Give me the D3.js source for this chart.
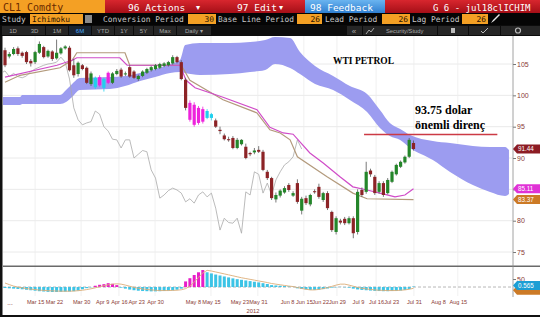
<!DOCTYPE html>
<html><head><meta charset="utf-8">
<script src="https://cdn.jsdelivr.net/npm/d3@7"></script>
<style>html,body{margin:0;padding:0;background:#fff;overflow:hidden}svg{display:block}</style>
</head><body>
<script>
// ---------------- DATA ----------------
const opens  = [107.2,106.2,106.6,107.5,106.8,106.9,105.5,105.3,106.8,107.7,106.2,107.0,105.9,106.7,107.5,107.6,104.8,103.4,104.8,104.4,101.8,101.3,102.9,101.2,103.6,102.0,103.4,104.1,103.4,104.5,103.8,102.6,103.1,103.6,104.0,104.2,104.4,104.7,104.8,105.1,106.1,105.3,102.5,98.8,98.5,98.0,97.8,96.4,96.4,96.0,94.5,93.6,93.0,93.2,91.6,92.2,91.8,90.8,90.9,91.3,91.0,87.8,86.8,83.4,84.0,84.5,85.7,84.0,86.0,81.6,83.6,82.6,84.7,85.4,83.3,84.4,81.4,78.2,80.0,80.3,79.6,80.4,78.2,84.9,84.6,88.0,87.0,84.6,86.0,84.4,86.2,87.4,88.6,89.3,90.2,92.4];
const highs  = [107.6,106.9,107.7,107.8,107.0,107.1,105.8,107.1,108.6,107.9,107.3,107.2,108.9,107.7,108.0,107.9,105.8,105.4,105.0,104.6,103.8,103.0,103.2,102.8,103.8,103.7,104.2,104.4,103.8,104.8,104.0,103.3,104.0,104.4,104.7,105.0,105.2,105.3,105.5,106.4,106.3,105.6,102.8,99.2,98.9,98.3,98.2,97.8,97.2,96.3,95.0,93.9,93.4,93.5,93.2,93.0,92.3,91.0,91.6,91.9,91.3,88.1,87.0,84.5,85.0,85.5,86.0,84.7,86.6,83.8,84.0,84.3,85.0,85.9,84.6,84.7,81.6,80.7,80.3,80.6,80.7,80.7,85.0,85.3,89.4,88.3,87.3,86.3,86.3,86.8,88.0,89.1,89.6,90.4,93.2,92.8];
const lows   = [104.5,105.9,106.4,106.3,106.0,105.0,104.6,105.0,106.6,105.9,106.0,105.5,105.7,106.5,107.3,103.8,102.8,103.0,104.0,101.8,101.5,101.0,101.4,100.6,101.8,101.8,103.2,102.8,103.1,102.8,102.6,102.3,102.9,103.4,103.8,104.0,104.2,104.5,104.6,104.9,105.1,102.4,97.6,95.8,95.0,95.3,95.5,96.2,96.0,94.8,93.8,92.8,92.6,91.4,91.4,92.0,89.8,90.3,90.6,90.8,87.9,86.5,83.3,82.9,83.7,84.3,84.6,83.8,82.7,81.0,82.5,82.3,84.3,83.5,83.0,81.7,78.2,77.8,79.4,79.3,79.4,77.2,77.8,83.8,84.3,87.0,84.1,84.3,83.8,84.2,86.0,87.2,88.4,89.1,90.0,91.2];
const closes = [104.8,106.6,107.4,106.6,106.3,105.3,105.1,106.9,108.2,106.1,107.1,105.8,106.8,107.5,107.8,104.0,103.2,105.2,104.2,102.0,103.5,102.8,101.6,102.6,102.0,103.5,103.9,103.0,103.5,103.0,102.8,103.1,103.8,104.2,104.5,104.8,105.0,105.1,105.3,106.1,105.3,102.6,98.0,96.1,95.3,95.6,95.8,97.5,97.0,95.0,94.3,93.0,92.9,91.6,92.9,92.9,90.0,90.6,91.2,91.0,88.1,86.8,83.6,84.1,84.8,85.2,84.9,84.4,83.0,83.5,82.8,84.1,84.6,83.8,84.4,82.0,78.5,80.4,79.7,79.6,80.4,78.0,84.6,84.1,87.8,87.4,84.4,86.0,84.1,86.5,87.8,88.9,89.4,90.2,92.9,91.44];
// Ichimoku signal highlight on candles (1 = highlighted)
const highlight = [0,0,0,0,0,0,0,0,0,0,0,0,0,0,0,0,0,0,0,0,0,1,1,1,1,0,0,0,0,0,0,0,0,0,0,0,0,0,0,0,0,0,0,1,1,1,1,1,1,0,0,0,0,0,0,0,0,0,0,0,0,0,0,0,0,0,0,0,0,0,0,0,0,0,0,0,0,0,0,0,0,0,0,0,0,0,0,0,0,0,0,0,0,0,0,0];

// Conversion line (period 30) – points read at bar index
const convIdx = [0,12.1,15.6,16.7,26.7,28.4,40.7,42.1,44.2,50.7,58.6,61.6,64.7,67,70.9,74,77.9,80.9,84.2,87.2,90.7,93,95];
const convVal = [102.9,104.8,105.6,106.0,106.0,104.8,104.8,102.4,101.2,99.7,97.7,94.9,94.0,93.8,90.8,89.2,87.0,85.4,84.9,84.4,83.8,84.1,85.11];
// Base line (period 26)
const baseIdx = [0,3.5,12.8,15.6,16.7,27.9,29,41,43,50.7,58.6,61.6,64,66.3,68,74.9,80.9,84.2,95];
const baseVal = [102.1,103.2,104.4,105.6,106.8,106.8,104.8,104.8,102.4,99.3,97.2,94.5,94.0,92.9,90.2,87.0,84.4,83.5,83.37];
// Cloud (leading spans, displaced 26 bars forward)
const cloudIdx = [-1,3.5,4,12.8,14.2,15.6,17.4,24.4,27.9,31.4,34.9,38.4,40.7,41.9,45.3,52.3,57,60.5,62.8,66.3,68.6,72.1,76.3,80.2,84.2,87.2,89.5,91.9,94.2,99.5,103.5,108.8,112.8,116.3,117.2];
const cloudTop = [99.73,99.73,100.05,100.05,100.85,101.81,102.77,102.93,103.09,103.56,104.20,105.0,105.64,108.03,108.35,108.35,108.51,108.83,109.31,109.15,106.91,104.68,103.09,101.49,100.21,97.66,95.59,94.63,93.67,92.71,92.39,91.92,91.76,91.76,91.28];
const cloudBot = [98.46,98.46,98.62,98.62,98.94,99.73,100.85,101.01,101.49,102.29,102.93,103.56,103.72,103.56,103.24,103.40,103.72,104.04,105.0,104.36,103.40,101.81,100.85,99.26,97.34,94.79,93.51,92.87,91.60,89.68,87.77,85.69,84.58,83.94,84.26];
const lagPeriod = 26;

// Lower oscillator (histogram + signal)
const oscHist = [-6,-8,-10,-12,-14,-17,-20,-23,-26,-28,-30,-31,-31,-30,-29,-28,-26,-22,-14,-7,-2,8,14,18,24,20,12,-4,-10,-16,-20,-23,-25,-26,-27,-27,-26,-25,-23,-21,-17,-10,35,55,75,92,106,92,85,78,72,66,60,54,49,45,41,37,33,29,24,19,12,10,8,6,4,2,-8,-12,-15,-18,-18,-16,-13,-9,-4,-2,1,-2,-4,-10,-15,-18,-20,-22,-24,-25,-26,-26,-25,-24,-22,-18,-12,3];
const oscSignal = [25,15,6,0,-5,-10,-13,-16,-19,-21,-23,-24,-25,-26,-26,-26,-25,-23,-20,-16,-11,-5,2,8,14,18,20,18,12,5,-2,-8,-12,-15,-18,-20,-22,-22,-22,-21,-20,-17,-10,5,30,60,88,104,100,94,88,82,76,70,64,58,53,48,43,38,33,28,22,18,14,10,6,3,-3,-9,-14,-18,-18,-15,-10,-4,4,12,18,18,12,5,-2,-8,-12,-15,-18,-20,-21,-22,-22,-22,-20,-18,-14,-8];
const oscUpWindows = [[21,26],[42,46]];

// Axis labels
const dateLabels = ["Mar 15","Mar 22","Mar 30","Apr 9","Apr 16","Apr 23","Apr 30","May 8","May 15","May 23","May 31","Jun 8","Jun 15","Jun 22","Jun 29","Jul 9","Jul 16","Jul 23","Jul 31","Aug 8","Aug 15"];
const dateIdx = [7.0,11.4,17.7,22.6,26.5,30.5,34.9,43.7,47.9,54.5,58.8,65.6,69.5,73.3,77.2,82.1,86.3,89.8,95.1,100.7,105.3];
const priceTicks = [75,80,85,90,95,100,105];
const priceLabelTicks = [75,80,90,95,100,105];
const oscTicks = [50];
const resistance = 93.75;
const resistanceSpan = [83.5,114.5];
const badges = [{v:91.44,t:"91.44",c:"#8c1c24"},{v:85.11,t:"85.11",c:"#e032d6"},{v:83.37,t:"83.37",c:"#cc7a26"}];

// ---------------- DRAW ----------------
const W=540,H=317;
const svg=d3.select("body").append("svg").attr("width",W).attr("height",H);
const x=d3.scaleLinear().domain([0,118]).range([5,5+118*4.3]);
const y=d3.scaleLinear().domain([72.77,109.47]).range([266,36]);
const yo=d3.scaleLinear().domain([-56,125]).range([296,267]);
const mono="'DejaVu Sans Mono','Liberation Mono',monospace";
const sans="'Liberation Sans','DejaVu Sans',Arial,sans-serif";

svg.append("rect").attr("width",W).attr("height",H).attr("fill","#fff");

// ---- header row 1
const hdr=svg.append("g");
const gr=svg.append("defs");
const lg=gr.append("linearGradient").attr("id","redg").attr("x1",0).attr("x2",0).attr("y1",0).attr("y2",1);
lg.append("stop").attr("offset","0").attr("stop-color","#d8262e");
lg.append("stop").attr("offset","1").attr("stop-color","#a50f17");
const bg=gr.append("linearGradient").attr("id","blueg").attr("x1",0).attr("x2",0).attr("y1",0).attr("y2",1);
bg.append("stop").attr("offset","0").attr("stop-color","#6ab4f0");
bg.append("stop").attr("offset","1").attr("stop-color","#2f7fd0");
hdr.append("rect").attr("x",0).attr("y",0).attr("width",W).attr("height",13).attr("fill","url(#redg)");
hdr.append("rect").attr("x",0).attr("y",0).attr("width",105).attr("height",13).attr("fill","#f4a024");
hdr.append("text").attr("x",3).attr("y",10.5).text("CL1 Comdty").attr("font-family",mono).attr("font-size",10).attr("fill","#6a2a00");
hdr.append("text").attr("x",128).attr("y",10.5).text("96 Actions").attr("font-family",mono).attr("font-size",9.5).attr("fill","#fff");
hdr.append("text").attr("x",196).attr("y",10).text("\u25BE").attr("font-family",sans).attr("font-size",8).attr("fill","#fff");
hdr.append("text").attr("x",237).attr("y",10.5).text("97 Edit").attr("font-family",mono).attr("font-size",9.5).attr("fill","#fff");
hdr.append("text").attr("x",279).attr("y",10).text("\u25BE").attr("font-family",sans).attr("font-size",8).attr("fill","#fff");
hdr.append("rect").attr("x",305).attr("y",0).attr("width",80).attr("height",13).attr("fill","url(#blueg)");
hdr.append("text").attr("x",310).attr("y",10.5).text("98 Feedback").attr("font-family",mono).attr("font-size",9.5).attr("fill","#fff");
hdr.append("text").attr("x",433).attr("y",10.5).text("G 6 - jul18clICHIM").attr("font-family",mono).attr("font-size",9).attr("fill","#fff");

// ---- header row 2
hdr.append("rect").attr("x",0).attr("y",13).attr("width",W).attr("height",12).attr("fill","#050505");
const r2=(t,xx,c)=>hdr.append("text").attr("x",xx).attr("y",22.3).text(t).attr("font-family",mono).attr("font-size",7.9).attr("fill",c||"#c9c9c9");
r2("Study",2);
hdr.append("rect").attr("x",30).attr("y",14).attr("width",53).attr("height",10).attr("fill","#f4a024");
r2("Ichimoku",32,"#2a1200");
hdr.append("rect").attr("x",85).attr("y",15).attr("width",7).attr("height",8).attr("fill","#8a8a8a");
r2("Conversion Period",103);
const obox=(x0,w,t)=>{hdr.append("rect").attr("x",x0).attr("y",14).attr("width",w).attr("height",10).attr("fill","#f4a024");
  hdr.append("text").attr("x",x0+w-2).attr("y",22.3).attr("text-anchor","end").text(t).attr("font-family",mono).attr("font-size",7.9).attr("fill","#2a1200");};
obox(188,28,"30");
r2("Base Line Period",218);
obox(297,25,"26");
r2("Lead Period",325);
obox(382,28,"26");
r2("Lag Period",412);
obox(462,26,"26");
hdr.append("path").attr("d","M491,23 L493,20 L499,14 L500,15 L494,21 Z").attr("fill","#e8e8e8");

// ---- header row 3 toolbar
hdr.append("rect").attr("x",0).attr("y",25).attr("width",W).attr("height",11).attr("fill","#0c0c0c");
const btns=[["1D",2,22],["3D",24,21],["1M",46,22],["6M",69,22],["YTD",92,22],["1Y",115,18],["5Y",134,19],["Max",154,22],["Daily \u25BE",177,34]];
btns.forEach((b,i)=>{hdr.append("rect").attr("x",b[1]).attr("y",26).attr("width",b[2]).attr("height",9).attr("fill",i===3?"#1a2430":"#262626");
  hdr.append("text").attr("x",b[1]+b[2]/2).attr("y",33).attr("text-anchor","middle").text(b[0]).attr("font-family",sans).attr("font-size",6).attr("fill",i===3?"#4aa8ff":"#a8a8a8");});
[[347,15],[363,74],[438,30],[469,31],[501,39]].forEach(c=>hdr.append("rect").attr("x",c[0]).attr("y",26).attr("width",c[1]).attr("height",9).attr("fill","#262626"));
hdr.append("text").attr("x",354).attr("y",33.5).attr("text-anchor","middle").text("\u00AB").attr("font-family",sans).attr("font-size",8).attr("fill","#aaa");
hdr.append("path").attr("d","M366,34 L369,30 L371,32 L374,28").attr("stroke","#aaa").attr("fill","none");
hdr.append("text").attr("x",386).attr("y",33).text("Security/Study").attr("font-family",sans).attr("font-size",5.8).attr("fill","#aaa");
hdr.append("rect").attr("x",451).attr("y",28).attr("width",4).attr("height",5).attr("fill","#bbb");
hdr.append("path").attr("d","M481,31 L483,33 L488,28").attr("stroke","#bbb").attr("fill","none");
hdr.append("circle").attr("cx",518).attr("cy",30.5).attr("r",2.5).attr("stroke","#bbb").attr("fill","none").attr("stroke-width",1.2);

// ---- grid
const grid=svg.append("g");
priceTicks.forEach(t=>grid.append("line").attr("x1",3).attr("x2",513).attr("y1",y(t)).attr("y2",y(t)).attr("stroke","#e4e4e4").attr("stroke-width",0.8));
dateIdx.forEach((d,i)=>{ if(i%2===0) grid.append("line").attr("x1",x(d)).attr("x2",x(d)).attr("y1",36).attr("y2",296).attr("stroke","#ececec").attr("stroke-width",0.8);});

// ---- price panel clip
svg.append("clipPath").attr("id","pc").append("rect").attr("x",3).attr("y",36).attr("width",510).attr("height",230);
const pp=svg.append("g").attr("clip-path","url(#pc)");

// cloud
const cloudPts=cloudIdx.map((d,i)=>({i:d,t:cloudTop[i],b:cloudBot[i]}));
pp.append("path").datum(cloudPts).attr("d",d3.area().x(d=>x(d.i)).y0(d=>y(d.b)).y1(d=>y(d.t)).curve(d3.curveMonotoneX)).attr("fill","#9c9cf0");

// lag line (closes shifted back)
pp.append("path").datum(closes.map((c,i)=>({i:i-lagPeriod,v:c}))).attr("d",d3.line().x(d=>x(d.i)).y(d=>y(d.v))).attr("fill","none").attr("stroke","#a9a9a9").attr("stroke-width",0.8);
// base line
pp.append("path").datum(baseIdx.map((d,i)=>({i:d,v:baseVal[i]}))).attr("d",d3.line().x(d=>x(d.i)).y(d=>y(d.v))).attr("fill","none").attr("stroke","#b39a7c").attr("stroke-width",1.2);
// conversion line
pp.append("path").datum(convIdx.map((d,i)=>({i:d,v:convVal[i]}))).attr("d",d3.line().x(d=>x(d.i)).y(d=>y(d.v))).attr("fill","none").attr("stroke","#d04cc8").attr("stroke-width",1.2);

// candles
const cd=closes.map((c,i)=>({i,o:opens[i],h:highs[i],l:lows[i],c,hl:highlight[i]}));
const col=d=>{const up=d.c>=d.o; if(d.hl) return up?"#1fd0ee":"#ee22dc"; return up?"#24862a":"#8c2326";};
const cg=pp.append("g");
cg.selectAll("line").data(cd).join("line").attr("x1",d=>x(d.i)).attr("x2",d=>x(d.i)).attr("y1",d=>y(d.h)).attr("y2",d=>y(d.l)).attr("stroke",d=>d.hl?col(d):"#555").attr("stroke-width",0.8);
cg.selectAll("rect").data(cd).join("rect").attr("x",d=>x(d.i)-1.6).attr("width",3.2)
  .attr("y",d=>y(Math.max(d.o,d.c))).attr("height",d=>Math.max(1,Math.abs(y(d.o)-y(d.c)))).attr("fill",col);

// resistance
svg.append("line").attr("x1",x(resistanceSpan[0])).attr("x2",x(resistanceSpan[1])).attr("y1",y(resistance)).attr("y2",y(resistance)).attr("stroke","#cc3a44").attr("stroke-width",1.5);

// annotations
const serif="'Liberation Serif','DejaVu Serif',serif";
svg.append("text").attr("x",333).attr("y",64).text("WTI PETROL").attr("font-family",serif).attr("font-weight","bold").attr("font-size",9.5).attr("fill","#000");
svg.append("text").attr("x",415).attr("y",114).text("93.75 dolar").attr("font-family",serif).attr("font-weight","bold").attr("font-size",12).attr("fill","#000");
svg.append("text").attr("x",415).attr("y",129).text("önemli direnç").attr("font-family",serif).attr("font-weight","bold").attr("font-size",12).attr("fill","#000");

// ---- lower panel
svg.append("line").attr("x1",3).attr("x2",540).attr("y1",266.3).attr("y2",266.3).attr("stroke","#6a6a6a").attr("stroke-width",1.6);
svg.append("line").attr("x1",3).attr("x2",513).attr("y1",yo(0)).attr("y2",yo(0)).attr("stroke","#9a9a9a").attr("stroke-dasharray","3,2").attr("stroke-width",0.7);
const isUp=i=>oscUpWindows.some(w=>i>=w[0]&&i<=w[1]);
svg.append("g").selectAll("rect").data(oscHist).join("rect")
  .attr("x",(d,i)=>x(i)-1.5).attr("width",3)
  .attr("y",d=>Math.min(yo(d),yo(0))).attr("height",d=>Math.abs(yo(d)-yo(0)))
  .attr("fill",(d,i)=>isUp(i)?"#e81ec8":"#3cc4e6");
svg.append("path").datum(oscSignal).attr("d",d3.line().x((d,i)=>x(i)).y(d=>yo(d))).attr("fill","none").attr("stroke","#dcae78").attr("stroke-width",0.9);

// ---- axes
const axC="#8a3a34";
const ya=svg.append("g").attr("transform","translate(513,0)").call(d3.axisRight(y).tickValues(priceTicks).tickSize(3).tickFormat(d=>priceLabelTicks.includes(d)?d3.format("d")(d):""));
const yoa=svg.append("g").attr("transform","translate(513,0)").call(d3.axisRight(yo).tickValues(oscTicks).tickSize(3));
[ya,yoa].forEach(a=>{a.select(".domain").remove();a.selectAll("line").attr("stroke","#777");a.selectAll("text").attr("font-family",sans).attr("font-size",7).attr("fill",axC).attr("x",4);});
svg.append("line").attr("x1",513).attr("x2",513).attr("y1",36).attr("y2",297).attr("stroke","#8a8a8a").attr("stroke-width",0.8);

const xa=svg.append("g").attr("transform","translate(0,298)").call(d3.axisBottom(x).tickValues(dateIdx).tickSize(0).tickFormat((d,i)=>dateLabels[i]));
xa.select(".domain").remove();
xa.selectAll("text").attr("font-family",sans).attr("font-size",5.6).attr("fill",axC).attr("dy","0.6em");
svg.append("text").attr("x",10).attr("y",305).attr("text-anchor","middle").text("...").attr("font-family",sans).attr("font-size",6.5).attr("fill",axC);
svg.append("text").attr("x",253).attr("y",313).attr("text-anchor","middle").text("2012").attr("font-family",sans).attr("font-size",5.8).attr("fill",axC);

// badges
const badge=(yy,t,c)=>{svg.append("path").attr("d",`M513,${yy} L517,${yy-4.5} L540,${yy-4.5} L540,${yy+4.5} L517,${yy+4.5} Z`).attr("fill",c);
  svg.append("text").attr("x",518).attr("y",yy+2.4).text(t).attr("font-family",sans).attr("font-size",6.3).attr("fill","#fff");};
badges.slice().reverse().forEach(b=>badge(y(b.v),b.t,b.c));
badge(yo(-20),"","#cc7a26");
badge(yo(10),"0.565","#1d9ed4");

// frame
svg.append("rect").attr("x",0).attr("y",36).attr("width",2.5).attr("height",281).attr("fill","#111");
svg.append("rect").attr("x",0).attr("y",315).attr("width",W).attr("height",2).attr("fill","#111");
</script>
</body></html>
